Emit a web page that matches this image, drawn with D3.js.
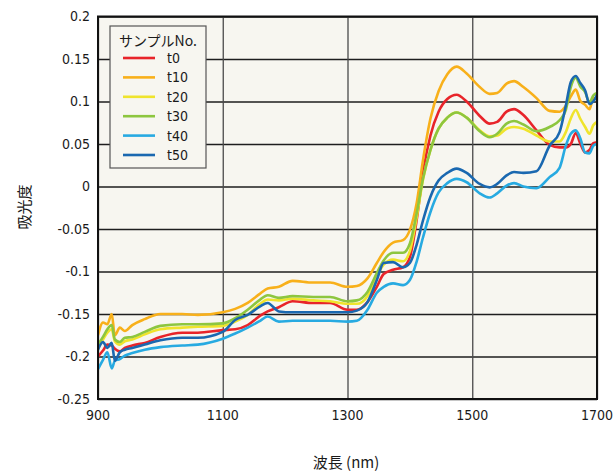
<!DOCTYPE html>
<html>
<head>
<meta charset="utf-8">
<script src="https://cdn.jsdelivr.net/npm/d3@7"></script>
<style>
  html, body { margin: 0; padding: 0; background: #ffffff; }
  svg { display: block; }
  text { font-family: "DejaVu Sans Condensed", "Liberation Sans", "Noto Sans CJK JP", sans-serif; fill: #1a1a1a; }
  .jp { font-family: "Noto Sans CJK JP", "DejaVu Sans", sans-serif; }
</style>
</head>
<body>
<svg id="chart" width="614" height="475"></svg>
<script>
// Wavelength grid (nm) shared by every spectrum
const wavelengths = [900, 908, 915, 922, 927, 935, 943, 955, 975, 1000, 1035, 1060, 1100, 1120, 1140, 1160, 1172, 1190, 1212, 1245, 1272, 1300, 1315, 1332, 1347, 1358, 1373, 1389, 1400, 1411, 1421, 1433, 1446, 1460, 1475, 1491, 1512, 1528, 1540, 1555, 1567, 1582, 1603, 1624, 1640, 1650, 1658, 1666, 1673, 1681, 1688, 1694, 1700];

// Absorbance per sample
const t0 = [-0.200, -0.193, -0.186, -0.187, -0.191, -0.194, -0.190, -0.187, -0.184, -0.177, -0.172, -0.172, -0.169, -0.168, -0.163, -0.152, -0.147, -0.142, -0.135, -0.137, -0.137, -0.145, -0.145, -0.136, -0.118, -0.103, -0.098, -0.095, -0.083, -0.039, 0.016, 0.060, 0.088, 0.103, 0.108, 0.100, 0.083, 0.074, 0.076, 0.088, 0.091, 0.084, 0.066, 0.049, 0.046, 0.046, 0.050, 0.063, 0.051, 0.040, 0.043, 0.051, 0.052];
const t10 = [-0.175, -0.160, -0.162, -0.150, -0.175, -0.166, -0.170, -0.163, -0.156, -0.150, -0.150, -0.151, -0.148, -0.144, -0.137, -0.126, -0.120, -0.118, -0.111, -0.113, -0.113, -0.118, -0.117, -0.108, -0.090, -0.077, -0.066, -0.063, -0.051, -0.019, 0.031, 0.080, 0.112, 0.132, 0.141, 0.133, 0.117, 0.109, 0.110, 0.121, 0.124, 0.117, 0.104, 0.089, 0.088, 0.095, 0.106, 0.114, 0.101, 0.096, 0.091, 0.104, 0.103];
const t20 = [-0.190, -0.180, -0.172, -0.168, -0.182, -0.186, -0.182, -0.180, -0.174, -0.168, -0.166, -0.165, -0.164, -0.159, -0.151, -0.138, -0.133, -0.134, -0.132, -0.134, -0.135, -0.138, -0.138, -0.129, -0.106, -0.092, -0.086, -0.088, -0.076, -0.036, 0.008, 0.043, 0.068, 0.081, 0.087, 0.081, 0.066, 0.059, 0.060, 0.068, 0.070, 0.068, 0.060, 0.053, 0.053, 0.064, 0.080, 0.090, 0.080, 0.070, 0.062, 0.072, 0.076];
const t30 = [-0.186, -0.177, -0.168, -0.163, -0.180, -0.183, -0.178, -0.177, -0.171, -0.164, -0.162, -0.162, -0.161, -0.155, -0.145, -0.133, -0.128, -0.131, -0.129, -0.130, -0.130, -0.135, -0.134, -0.124, -0.102, -0.087, -0.078, -0.078, -0.067, -0.031, 0.009, 0.043, 0.068, 0.081, 0.087, 0.081, 0.065, 0.058, 0.062, 0.074, 0.077, 0.073, 0.065, 0.070, 0.078, 0.090, 0.117, 0.128, 0.118, 0.111, 0.099, 0.107, 0.110];
const t40 = [-0.215, -0.204, -0.195, -0.214, -0.205, -0.203, -0.199, -0.196, -0.192, -0.189, -0.187, -0.186, -0.179, -0.173, -0.166, -0.158, -0.153, -0.159, -0.158, -0.158, -0.158, -0.159, -0.158, -0.145, -0.125, -0.118, -0.114, -0.116, -0.110, -0.088, -0.060, -0.030, -0.007, 0.004, 0.009, 0.005, -0.008, -0.013, -0.008, 0.001, 0.004, 0.000, -0.002, 0.011, 0.022, 0.048, 0.062, 0.066, 0.057, 0.040, 0.039, 0.048, 0.050];
const t50 = [-0.192, -0.183, -0.190, -0.184, -0.205, -0.195, -0.192, -0.190, -0.186, -0.181, -0.178, -0.178, -0.171, -0.157, -0.151, -0.141, -0.137, -0.147, -0.148, -0.148, -0.148, -0.148, -0.146, -0.136, -0.110, -0.090, -0.089, -0.095, -0.090, -0.068, -0.040, -0.012, 0.007, 0.016, 0.021, 0.016, 0.003, -0.001, 0.003, 0.013, 0.017, 0.016, 0.018, 0.048, 0.064, 0.095, 0.123, 0.130, 0.122, 0.113, 0.097, 0.100, 0.108];

const seriesNames = ["t0", "t10", "t20", "t30", "t40", "t50"];
const seriesValues = [t0, t10, t20, t30, t40, t50];
const seriesColors = ["#e8242a", "#f8b01a", "#efe42c", "#8dc63f", "#27aae1", "#1a68b0"];

const xTicks = [900, 1100, 1300, 1500, 1700];
const yTicks = [0.2, 0.15, 0.1, 0.05, 0, -0.05, -0.1, -0.15, -0.2, -0.25];

const legendTitle = "サンプルNo.";
const xTitle = "波長 (nm)";
const yTitle = "吸光度";

const svg = d3.select("#chart");
const plot = { left: 98, right: 597, top: 16.5, bottom: 399 };

const x = d3.scaleLinear().domain([900, 1700]).range([plot.left, plot.right]);
const y = d3.scaleLinear().domain([-0.25, 0.2]).range([plot.bottom, plot.top]);

// Plot background
svg.append("rect")
  .attr("x", plot.left).attr("y", plot.top)
  .attr("width", plot.right - plot.left).attr("height", plot.bottom - plot.top)
  .attr("fill", "#f7f6f0");

// Grid lines
svg.append("g")
  .call(d3.axisLeft(y).tickValues(yTicks).tickSize(-(plot.right - plot.left)).tickFormat(""))
  .attr("transform", `translate(${plot.left},0)`)
  .call(g => g.select(".domain").remove())
  .call(g => g.selectAll("line").attr("stroke", "#1e1e1e").attr("stroke-width", 1.3));

svg.append("g")
  .call(d3.axisBottom(x).tickValues(xTicks).tickSize(-(plot.bottom - plot.top)).tickFormat(""))
  .attr("transform", `translate(0,${plot.bottom})`)
  .call(g => g.select(".domain").remove())
  .call(g => g.selectAll("line").attr("stroke", "#4a4a4a").attr("stroke-width", 1.3));

// Spectra
const line = d3.line()
  .x((d, i) => x(wavelengths[i]))
  .y(d => y(d))
  .curve(d3.curveMonotoneX);

svg.append("defs").append("clipPath").attr("id", "plotClip")
  .append("rect")
  .attr("x", plot.left).attr("y", plot.top)
  .attr("width", plot.right - plot.left).attr("height", plot.bottom - plot.top);

svg.append("g").attr("clip-path", "url(#plotClip)")
  .selectAll("path")
  .data(seriesValues)
  .join("path")
  .attr("d", d => line(d))
  .attr("fill", "none")
  .attr("stroke", (d, i) => seriesColors[i])
  .attr("stroke-width", 2.6)
  .attr("stroke-linejoin", "round");

// Plot frame
svg.append("rect")
  .attr("x", plot.left).attr("y", plot.top)
  .attr("width", plot.right - plot.left).attr("height", plot.bottom - plot.top)
  .attr("fill", "none").attr("stroke", "#111").attr("stroke-width", 2);

// Tick labels
const fmt = v => String(+v.toFixed(2));
svg.append("g").selectAll("text")
  .data(yTicks)
  .join("text")
  .attr("x", 90).attr("y", d => y(d))
  .attr("dy", "0.35em")
  .attr("text-anchor", "end")
  .attr("font-size", 14)
  .text(fmt);

svg.append("g").selectAll("text")
  .data(xTicks)
  .join("text")
  .attr("x", d => x(d)).attr("y", 420)
  .attr("text-anchor", "middle")
  .attr("font-size", 14)
  .text(d => d);

// Axis titles
svg.append("text")
  .attr("class", "jp")
  .attr("transform", "translate(30,207) rotate(-90)")
  .attr("text-anchor", "middle")
  .attr("font-size", 15)
  .text(yTitle);

svg.append("text")
  .attr("class", "jp")
  .attr("x", 346).attr("y", 468)
  .attr("text-anchor", "middle")
  .attr("font-size", 15)
  .text(xTitle);

// Legend
const legend = svg.append("g");
legend.append("rect")
  .attr("x", 110).attr("y", 26).attr("width", 96).attr("height", 142)
  .attr("fill", "#f7f6f0").attr("stroke", "#555").attr("stroke-width", 1.2);
legend.append("text")
  .attr("class", "jp")
  .attr("x", 158).attr("y", 46)
  .attr("text-anchor", "middle")
  .attr("font-size", 14)
  .text(legendTitle);

const rowY = d3.scaleLinear().domain([0, 5]).range([58, 155]);
const rows = legend.selectAll("g.row")
  .data(seriesNames)
  .join("g").attr("class", "row")
  .attr("transform", (d, i) => `translate(0,${rowY(i)})`);
rows.append("line")
  .attr("x1", 123).attr("x2", 155)
  .attr("stroke", (d, i) => seriesColors[i])
  .attr("stroke-width", 2.6);
rows.append("text")
  .attr("x", 167).attr("dy", "0.35em")
  .attr("font-size", 14)
  .text(d => d);
</script>
</body>
</html>
